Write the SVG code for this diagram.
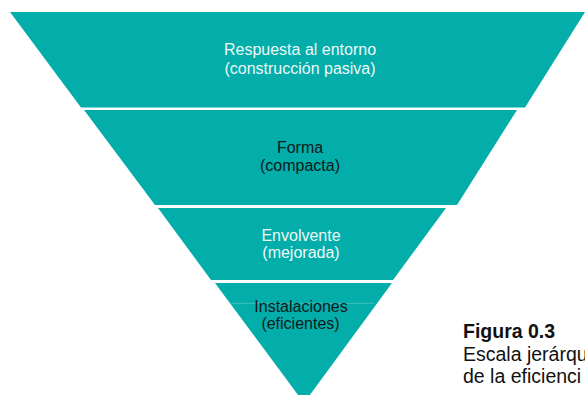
<svg xmlns="http://www.w3.org/2000/svg" width="585" height="395" viewBox="0 0 585 395">
<style>
.band{fill:#02ADAA}
.t{font-family:"Liberation Sans",Arial,Helvetica,sans-serif;font-size:16px;text-anchor:middle}
.light{fill:#EEF9F8}
.dark{fill:#0F1A1A}
.cap{font-family:"Liberation Sans",Arial,Helvetica,sans-serif;font-size:19.5px;fill:#111}
</style>
<rect width="585" height="395" fill="#fff"/>
<g id="band1">
<polygon class="band" points="10,12 585,12 525,107.5 81,107.5"/>
<text class="t light" x="300" y="55">Respuesta al entorno</text>
<text class="t light" x="300" y="73.5">(construcción pasiva)</text>
</g>
<g id="band2">
<polygon class="band" points="84,110 517,110 457,205 155,205"/>
<text class="t dark" x="300" y="153.3">Forma</text>
<text class="t dark" x="300" y="170.7">(compacta)</text>
</g>
<g id="band3">
<polygon class="band" points="158,208 446,208 393,280 211,280"/>
<text class="t light" x="301" y="241">Envolvente</text>
<text class="t light" x="301" y="257.7">(mejorada)</text>
</g>
<g id="band4">
<polygon class="band" points="215,283 392,283 304,403"/>
<line x1="231" y1="303.3" x2="375" y2="303.3" stroke="#4CC4C0" stroke-width="0.8"/>
<text class="t dark" x="301" y="312.3">Instalaciones</text>
<text class="t dark" x="300.5" y="329.3">(eficientes)</text>
</g>
<g id="caption">
<text class="cap" x="463" y="338" font-weight="bold">Figura 0.3</text>
<text class="cap" x="463" y="361">Escala jerárqu</text>
<text class="cap" x="463" y="383">de la eficienci</text>
</g>
</svg>
